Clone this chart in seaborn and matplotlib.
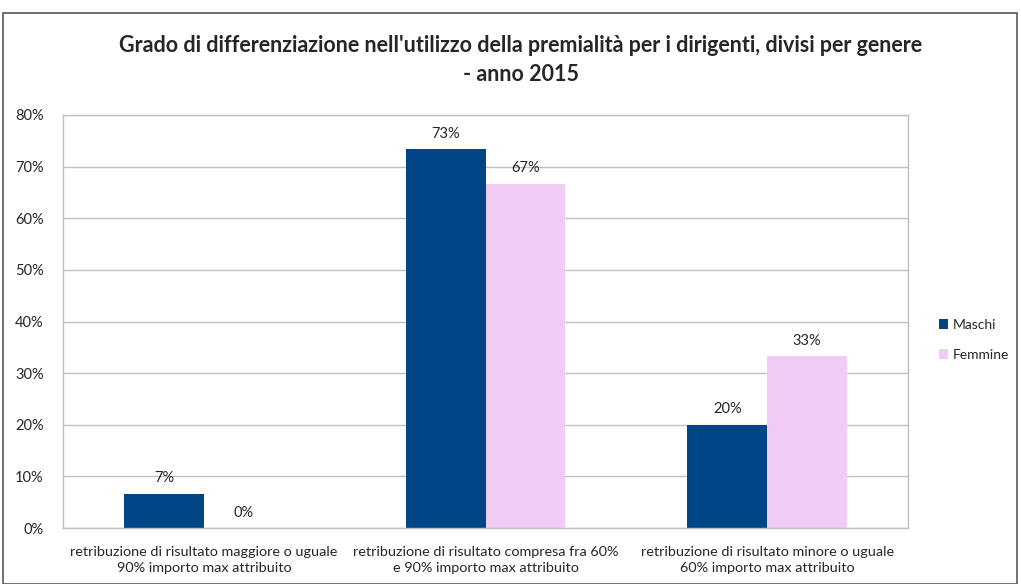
import matplotlib
matplotlib.use("Agg")
import matplotlib.pyplot as plt
import seaborn as sns
import pandas as pd
from matplotlib.patches import Rectangle, Patch

categories = [
    "retribuzione di risultato maggiore o uguale\n90% importo max attribuito",
    "retribuzione di risultato compresa fra 60%\ne 90% importo max attribuito",
    "retribuzione di risultato minore o uguale\n60% importo max attribuito",
]
series = ["Maschi", "Femmine"]
maschi = [6.67, 73.33, 20.0]
femmine = [0.0, 66.67, 33.33]
yticks = [0, 10, 20, 30, 40, 50, 60, 70, 80]
title = "Grado di differenziazione nell'utilizzo della premialità per i dirigenti, divisi per genere\n- anno 2015"

colors = {"Maschi": "#004586", "Femmine": "#F0CCF5"}

df = pd.DataFrame({
    "cat": categories * 2,
    "serie": ["Maschi"] * 3 + ["Femmine"] * 3,
    "val": maschi + femmine,
})

sns.set_style("white")
plt.rcParams["font.family"] = ["Lato", "DejaVu Sans"]

fig = plt.figure(figsize=(10.21, 5.84), dpi=100)
ax = fig.add_axes([63 / 1021, 1 - 528 / 584, (908 - 63) / 1021, (528 - 115) / 584])

sns.barplot(data=df, x="cat", y="val", hue="serie", hue_order=series,
            palette=colors, width=0.568, ax=ax, legend=False, saturation=1,
            edgecolor="none")

ax.set_ylim(0, 80)
ax.set_xlim(-0.5, 2.5)
ax.set_yticks(yticks)
ax.set_yticklabels([f"{v}%" for v in yticks], fontsize=10.5)
ax.tick_params(axis="y", length=0, pad=14)
ax.tick_params(axis="x", length=0, pad=13)
ax.set_xticklabels(categories, fontsize=10.4, linespacing=1.4)
ax.set_xlabel("")
ax.set_ylabel("")
ax.yaxis.grid(True, color="#BFBFBF", linewidth=1)
ax.set_axisbelow(True)
for s in ax.spines.values():
    s.set_color("#BFBFBF")
    s.set_linewidth(1)

for cont in ax.containers:
    for bar in cont:
        h = bar.get_height()
        ax.annotate(f"{h:.0f}%", (bar.get_x() + bar.get_width() / 2, h),
                    xytext=(0, 6), textcoords="offset points",
                    ha="center", va="bottom", fontsize=10.5)

fig.text(0.51, 1 - 60 / 584, title, ha="center", va="center",
         fontsize=15.5, fontweight="bold", linespacing=1.45)

handles = [Patch(facecolor=colors[s], edgecolor="none") for s in series]
fig.legend(handles, series, loc="center left", bbox_to_anchor=(926 / 1021, 1 - 340 / 584),
           frameon=False, fontsize=10, handlelength=0.7, handleheight=0.7,
           handletextpad=0.35, labelspacing=1.3)

fig.patches.append(Rectangle((3 / 1021, 0), (1017 - 3) / 1021, 1 - 13 / 584,
                             transform=fig.transFigure, fill=False,
                             edgecolor="#595959", linewidth=1.2))

fig.savefig("out.png", dpi=100)
